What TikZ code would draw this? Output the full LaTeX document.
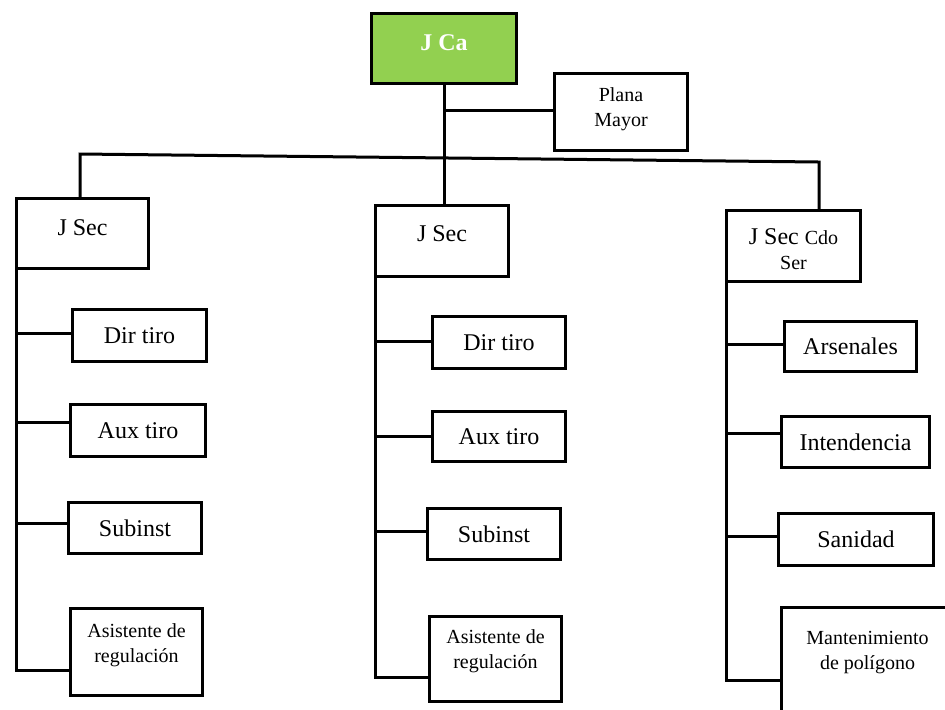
\documentclass[tikz,border=0pt]{standalone}
\usepackage{fontspec}
\setmainfont{Liberation Serif}
\definecolor{verdejefe}{RGB}{146,208,80}
\newcommand{\letrachica}{\fontsize{10}{12.5}\selectfont}
\tikzset{
  caja/.style={draw, line width=1.5pt, inner sep=0pt, outer sep=0pt,
    align=center, font=\fontsize{12}{12.5}\selectfont},
  chica/.style={font=\letrachica},
  tam/.style 2 args={minimum width=#1*0.5pt, minimum height=#2*0.5pt},
  linea/.style={line width=1.5pt},
}
\begin{document}
\begin{tikzpicture}[x=0.5pt,y=-0.5pt]
\useasboundingbox (0,0) rectangle (945,709);
\clip (0,0) rectangle (945,709);

% ---------------------------
% jefe y plana mayor
% ---------------------------
\node[caja, tam={145}{70}, fill=verdejefe, text=white, font=\fontsize{12}{12.5}\selectfont\bfseries,
  text depth=5.5pt] (jca) at (444,48.5) {J Ca};
\node[caja, chica, tam={133}{77}, text depth=5.3pt] (plana) at (621,112) {Plana\\Mayor};

\coordinate (bl) at (80,154);
\coordinate (br) at (819,162);
\coordinate (pm) at (445,110);

% ---------------------------
% jefes de seccion
% ---------------------------
\node[caja, tam={132}{70}, text depth=6.4pt] (ls) at (82.5,233.5) {J Sec};
\node[caja, tam={133}{71}, text depth=7.9pt] (ms) at (442,241) {J Sec};
\node[caja, tam={134}{71}, text height=23pt, text depth=0pt] (rs) at (793.5,246) {J Sec {\letrachica Cdo}\\{\letrachica Ser}};

\draw[linea] (jca.south) -- (jca.south |- ms.north);
\draw[linea] (pm) -- (pm -| plana.west);
\draw[linea] (bl |- ls.north) -- (bl) -- (br) -- (br |- rs.north);

% ---------------------------
% seccion izquierda
% ---------------------------
\node[caja, tam={134}{52}] (l1) at (139.5,335.5) {Dir tiro};
\node[caja, tam={135}{52}] (l2) at (138,430.5) {Aux tiro};
\node[caja, tam={133}{51}] (l3) at (135,528) {Subinst};
\node[caja, chica, tam={132}{87}, text depth=9.3pt] (l4) at (136.5,652) {Asistente de\\regulación};

\coordinate (lk1) at (16.5,333);
\coordinate (lk2) at (16.5,422);
\coordinate (lk3) at (16.5,523);
\coordinate (lk4) at (16.5,670);

\draw[linea] (ls.south west) -- (lk4) -- (lk4 -| l4.west);
\draw[linea] (lk1) -- (lk1 -| l1.west);
\draw[linea] (lk2) -- (lk2 -| l2.west);
\draw[linea] (lk3) -- (lk3 -| l3.west);

% ---------------------------
% seccion central
% ---------------------------
\node[caja, tam={133}{52}] (m1) at (499,342.5) {Dir tiro};
\node[caja, tam={133}{50}] (m2) at (499,436.5) {Aux tiro};
\node[caja, tam={133}{51}] (m3) at (494,534) {Subinst};
\node[caja, chica, tam={132}{85}, text depth=10.3pt] (m4) at (495.5,659) {Asistente de\\regulación};

\coordinate (mk1) at (375.5,341);
\coordinate (mk2) at (375.5,436);
\coordinate (mk3) at (375.5,531);
\coordinate (mk4) at (375.5,677);

\draw[linea] (ms.south west) -- (mk4) -- (mk4 -| m4.west);
\draw[linea] (mk1) -- (mk1 -| m1.west);
\draw[linea] (mk2) -- (mk2 -| m2.west);
\draw[linea] (mk3) -- (mk3 -| m3.west);

% ---------------------------
% seccion de comando y servicios
% ---------------------------
\node[caja, tam={132}{50}] (r1) at (850.5,346.5) {Arsenales};
\node[caja, tam={148}{51}] (r2) at (855.5,442) {Intendencia};
\node[caja, tam={155}{52}] (r3) at (856,539.5) {Sanidad};
\node[caja, chica, tam={172}{121}, text depth=17.3pt] (r4) at (867.5,668) {Mantenimiento\\de polígono};

\coordinate (rk1) at (726.5,344);
\coordinate (rk2) at (726.5,433);
\coordinate (rk3) at (726.5,536);
\coordinate (rk4) at (726.5,680);

\draw[linea] (rs.south west) -- (rk4) -- (rk4 -| r4.west);
\draw[linea] (rk1) -- (rk1 -| r1.west);
\draw[linea] (rk2) -- (rk2 -| r2.west);
\draw[linea] (rk3) -- (rk3 -| r3.west);

\end{tikzpicture}
\end{document}
